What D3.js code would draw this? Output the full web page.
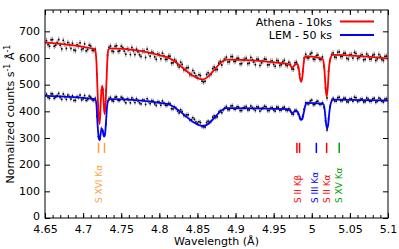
<!DOCTYPE html>
<html>
<head>
<meta charset="utf-8">
<script src="https://cdn.jsdelivr.net/npm/d3@7"></script>
<style>
  body { margin: 0; background: #fff; }
  svg { font-family: "DejaVu Sans", sans-serif; }
</style>
</head>
<body>
<svg id="chart" width="399" height="249"></svg>
<script>
// binned spectra (bin centres start at binStart, step binStep)
const binStart = 4.652;
const binStep = 0.002;
const athenaCounts = [
  665, 650, 644, 668, 669, 644, 648, 658, 669, 648, 634, 666, 652, 636, 658, 650,
  636, 655, 630, 628, 649, 644, 657, 632, 635, 653, 627, 632, 648, 645, 629, 628,
  633, 540, 420, 380, 478, 482, 405, 478, 610, 640, 645, 626, 624, 644, 646, 625,
  627, 644, 639, 626, 614, 634, 631, 613, 639, 627, 613, 633, 623, 612, 606, 626,
  626, 602, 633, 618, 607, 622, 619, 604, 595, 615, 612, 597, 618, 608, 595, 595,
  607, 607, 581, 582, 594, 588, 574, 566, 584, 576, 556, 557, 563, 564, 538, 538,
  553, 544, 533, 526, 537, 534, 513, 510, 513, 538, 544, 535, 540, 560, 566, 556,
  557, 581, 587, 574, 590, 596, 603, 585, 586, 605, 605, 587, 588, 599, 599, 578,
  579, 593, 595, 599, 579, 581, 602, 593, 585, 575, 596, 595, 572, 582, 588, 596,
  595, 574, 575, 587, 589, 576, 569, 591, 589, 572, 575, 586, 591, 574, 571, 584,
  576, 559, 558, 582, 584, 564, 540, 517, 550, 600, 614, 601, 600, 615, 619, 596,
  595, 609, 611, 596, 594, 604, 568, 487, 450, 550, 592, 613, 619, 604, 602, 621,
  623, 605, 606, 618, 618, 599, 596, 612, 613, 600, 621, 617, 598, 602, 609, 612,
  593, 595, 615, 608, 596, 596, 610, 613, 591, 597, 613, 606, 594, 591, 606, 607
];
const lemCounts = [
  464, 452, 449, 466, 465, 449, 453, 459, 467, 452, 445, 465, 455, 445, 461, 455,
  446, 458, 441, 441, 455, 452, 461, 443, 447, 459, 441, 444, 457, 453, 443, 441,
  449, 382, 305, 296, 336, 326, 313, 352, 437, 448, 452, 440, 438, 453, 454, 441,
  441, 453, 450, 440, 432, 447, 444, 432, 450, 443, 433, 447, 439, 432, 428, 442,
  442, 426, 447, 437, 429, 440, 438, 428, 422, 436, 434, 423, 439, 431, 423, 422,
  430, 429, 410, 409, 417, 411, 401, 394, 406, 399, 385, 383, 387, 387, 368, 368,
  376, 370, 360, 355, 361, 358, 343, 342, 341, 358, 363, 358, 363, 378, 383, 377,
  380, 397, 402, 395, 406, 413, 418, 406, 407, 420, 421, 409, 408, 417, 416, 403,
  403, 413, 415, 418, 405, 406, 420, 414, 409, 403, 417, 416, 401, 408, 413, 419,
  417, 403, 403, 412, 414, 405, 401, 416, 415, 404, 405, 413, 416, 405, 403, 410,
  404, 390, 389, 404, 403, 390, 377, 372, 382, 408, 432, 429, 428, 439, 442, 425,
  426, 436, 438, 427, 426, 432, 415, 364, 330, 373, 418, 441, 449, 439, 438, 451,
  453, 440, 440, 449, 449, 436, 435, 446, 447, 438, 453, 451, 437, 440, 445, 447,
  435, 436, 450, 446, 438, 438, 447, 449, 434, 438, 450, 446, 438, 435, 446, 447
];
const athenaErr = 11;
const lemErr = 9;

// best-fit models
const athenaModelWave = [
  4.650, 4.714, 4.716, 4.7175, 4.719, 4.7205, 4.7215, 4.7225, 4.7235, 4.725,
  4.7262, 4.7272, 4.7282, 4.7292, 4.7305, 4.7318, 4.733, 4.735, 4.810, 4.857,
  4.888, 4.968, 4.9715, 4.9745, 4.9775, 4.981, 4.983, 4.9845, 4.986, 4.9875,
  4.989, 4.9905, 4.9925, 5.014, 5.0165, 5.018, 5.0195, 5.021, 5.0225, 5.025,
  5.027, 5.100
];
const athenaModel = [
  658, 634, 628, 585, 470, 380, 352, 390, 455, 496,
  470, 420, 390, 415, 500, 590, 630, 636, 603, 520,
  594, 578, 574, 563, 574, 578, 560, 525, 512, 525,
  570, 600, 606, 598, 560, 495, 455, 490, 560, 603,
  612, 598
];
const lemModelWave = [
  4.650, 4.716, 4.7175, 4.719, 4.7205, 4.7215, 4.7225, 4.7238, 4.725, 4.7262,
  4.7275, 4.7287, 4.730, 4.7315, 4.733, 4.736, 4.810, 4.858, 4.888, 4.968,
  4.9715, 4.9745, 4.9775, 4.981, 4.9835, 4.9855, 4.9875, 4.9895, 4.9915, 4.9935,
  5.015, 5.017, 5.0185, 5.020, 5.0215, 5.023, 5.0255, 5.028, 5.100
];
const lemModel = [
  458, 446, 425, 350, 300, 292, 305, 330, 333, 318,
  305, 312, 360, 420, 440, 446, 428, 345, 412, 408,
  402, 393, 400, 400, 385, 368, 370, 395, 422, 432,
  428, 405, 360, 335, 350, 395, 435, 444, 440
];

// transitions
const lineLabels = ['S XVI Kα', 'S II Kβ', 'S III Kα', 'S II Kα', 'S XV Kα'];
const lineLabelWave = [4.7202, 4.9823, 5.0045, 5.0195, 5.036];
const lineMarkWave = [[4.7202, 4.7281], [4.9805, 4.984], [5.006], [5.0195], [5.036]];
const lineColors = ['#ffa040', '#ff0000', '#0000ff', '#ff0000', '#00a000'];

const xTicks = [4.65, 4.7, 4.75, 4.8, 4.85, 4.9, 4.95, 5, 5.05, 5.1];
const yTicks = [0, 100, 200, 300, 400, 500, 600, 700];

const pLeft = 45, pRight = 388, pTop = 10, pBottom = 218;
const svg = d3.select('#chart');

const x = d3.scaleLinear().domain([4.65, 5.1]).range([pLeft, pRight]);
const y = d3.scaleLinear().domain([0, 780]).range([pBottom, pTop]);

const bins = athenaCounts.map((d, i) => binStart + i * binStep);

// axes
const fmt = (d) => String(+d.toFixed(2));
const minor = d3.range(4.65, 5.1001, 0.01);

svg.append('g').attr('transform', `translate(0,${pBottom})`)
  .call(d3.axisBottom(x).tickValues(minor).tickSize(-3).tickFormat(''));
svg.append('g').attr('transform', `translate(0,${pTop})`)
  .call(d3.axisTop(x).tickValues(minor).tickSize(-3).tickFormat(''));
svg.append('g').attr('class', 'xaxis').attr('transform', `translate(0,${pBottom})`)
  .call(d3.axisBottom(x).tickValues(xTicks).tickSize(-5).tickPadding(7).tickFormat(fmt));
svg.append('g').attr('transform', `translate(0,${pTop})`)
  .call(d3.axisTop(x).tickValues(xTicks).tickSize(-5).tickFormat(''));
svg.append('g').attr('class', 'yaxis').attr('transform', `translate(${pLeft},0)`)
  .call(d3.axisLeft(y).tickValues(yTicks).tickSize(-5).tickPadding(5));
svg.append('g').attr('transform', `translate(${pRight},0)`)
  .call(d3.axisRight(y).tickValues(yTicks).tickSize(-5).tickFormat(''));

svg.selectAll('.domain').remove();
svg.selectAll('.tick line').attr('stroke', '#000');
svg.selectAll('.tick text')
  .attr('font-family', '"DejaVu Sans", sans-serif')
  .attr('font-size', 11)
  .attr('fill', '#000');
svg.selectAll('.yaxis .tick text').attr('dy', (d) => d === 0 ? '0.1em' : '0.3em');

// data points with error bars
function drawPoints(counts, err) {
  const g = svg.append('g');
  g.selectAll('line').data(counts).join('line')
    .attr('x1', (d, i) => x(bins[i])).attr('x2', (d, i) => x(bins[i]))
    .attr('y1', (d) => y(d - err)).attr('y2', (d) => y(d + err))
    .attr('stroke', '#000').attr('stroke-width', 0.7).attr('opacity', 0.55);
  g.selectAll('rect').data(counts).join('rect')
    .attr('x', (d, i) => x(bins[i]) - 0.8).attr('y', (d) => y(d) - 0.8)
    .attr('width', 1.6).attr('height', 1.6).attr('fill', '#000');
}
drawPoints(athenaCounts, athenaErr);
drawPoints(lemCounts, lemErr);

// models
const line = d3.line().curve(d3.curveMonotoneX);
svg.append('path')
  .attr('d', line(athenaModelWave.map((w, i) => [x(w), y(athenaModel[i])])))
  .attr('fill', 'none').attr('stroke', '#ff0000').attr('stroke-width', 1.8);
svg.append('path')
  .attr('d', line(lemModelWave.map((w, i) => [x(w), y(lemModel[i])])))
  .attr('fill', 'none').attr('stroke', '#0000ff').attr('stroke-width', 1.8);

// transition markers and labels
lineLabels.forEach((name, k) => {
  lineMarkWave[k].forEach((w) => {
    svg.append('line')
      .attr('x1', x(w)).attr('x2', x(w))
      .attr('y1', y(282)).attr('y2', y(244))
      .attr('stroke', lineColors[k]).attr('stroke-width', 1.5);
  });
  const lx = x(lineLabelWave[k]), ly = y(56);
  svg.append('text')
    .attr('transform', `translate(${lx},${ly}) rotate(-90)`)
    .attr('dy', '0.35em')
    .attr('font-size', 9)
    .attr('fill', lineColors[k])
    .text(name);
});

// legend
const legend = [['Athena - 10ks', '#ff0000'], ['LEM - 50 ks', '#0000ff']];
legend.forEach(([label, color], i) => {
  const ly = 21.5 + i * 13.5;
  svg.append('text').attr('x', 332).attr('y', ly + 4)
    .attr('text-anchor', 'end').attr('font-size', 11).text(label);
  svg.append('line').attr('x1', 340).attr('x2', 374)
    .attr('y1', ly).attr('y2', ly)
    .attr('stroke', color).attr('stroke-width', 1.8);
});

// frame
svg.append('rect')
  .attr('x', pLeft).attr('y', pTop)
  .attr('width', pRight - pLeft).attr('height', pBottom - pTop)
  .attr('fill', 'none').attr('stroke', '#000').attr('stroke-width', 1);

// axis titles
svg.append('text')
  .attr('x', (pLeft + pRight) / 2).attr('y', 245)
  .attr('text-anchor', 'middle').attr('font-size', 11)
  .text('Wavelength (Å)');
const yt = svg.append('text')
  .attr('transform', `translate(14,${(pTop + pBottom) / 2}) rotate(-90)`)
  .attr('text-anchor', 'middle').attr('font-size', 11);
yt.append('tspan').text('Normalized counts s');
yt.append('tspan').attr('dy', -4).attr('font-size', 8).text('-1');
yt.append('tspan').attr('dy', 4).text(' Å');
yt.append('tspan').attr('dy', -4).attr('font-size', 8).text('-1');
</script>
</body>
</html>
